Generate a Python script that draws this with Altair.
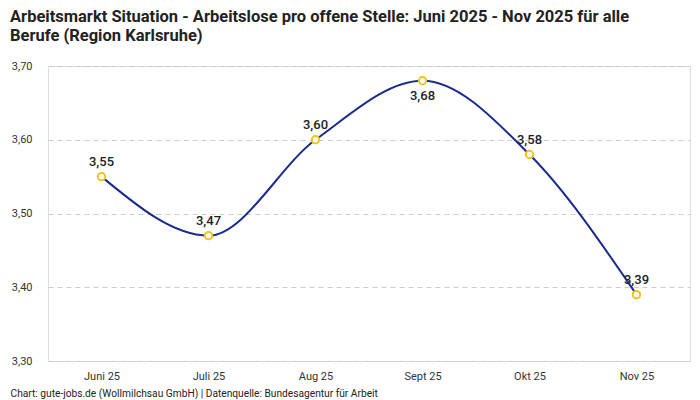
import altair as alt
import pandas as pd

months = ["Juni 25", "Juli 25", "Aug 25", "Sept 25", "Okt 25", "Nov 25"]
values = [3.55, 3.47, 3.60, 3.68, 3.58, 3.39]
label_pos = ["above", "above", "above", "below", "above", "above"]

df = pd.DataFrame({"Monat": months, "Wert": values, "pos": label_pos})

FONT = "Roboto"

x = alt.X("Monat:N", sort=months, scale=alt.Scale(type="point", padding=0.5),
          axis=alt.Axis(title="Chart: gute-jobs.de (Wollmilchsau GmbH) | Datenquelle: Bundesagentur für Arbeit",
                        titleX=-38, titleY=35, titleAlign="left", titleAnchor="start",
                        titleBaseline="alphabetic",
                        titleFontSize=10.2, titleFontWeight="normal", titleColor="#222", titleFont=FONT,
                        labelAngle=0, labelFontSize=11, labelColor="#333", labelFont=FONT,
                        labelPadding=9, ticks=False, domain=False, grid=False))
y = alt.Y("Wert:Q", scale=alt.Scale(domain=[3.30, 3.70], nice=False, zero=False),
          axis=alt.Axis(title=None, values=[3.30, 3.40, 3.50, 3.60, 3.70],
                        labelExpr="replace(format(datum.value, '.2f'), '.', ',')",
                        labelFontSize=11, labelColor="#333", labelFont=FONT,
                        labelPadding=16, ticks=False, domain=False,
                        grid=True, gridColor="#cccccc", gridDash=[5, 4], gridWidth=1))

base = alt.Chart(df).encode(x=x, y=y)

line = base.mark_line(color="#1b2a8f", strokeWidth=2, interpolate="monotone")
points = base.mark_point(shape="circle", filled=True, fill="white", stroke="#f5c21b",
                         strokeWidth=2, size=55, opacity=1)

text_base = base.transform_calculate(lbl="replace(format(datum.Wert, '.2f'), '.', ',')")
above = text_base.transform_filter("datum.pos == 'above'").mark_text(
    dy=-15, fontSize=13, font=FONT, color="#222", fontWeight=500).encode(text="lbl:N")
below = text_base.transform_filter("datum.pos == 'below'").mark_text(
    dy=15, fontSize=13, font=FONT, color="#222", fontWeight=500).encode(text="lbl:N")

chart = alt.layer(line, points, above, below).properties(
    width=642, height=295,
    padding={"left": 2, "top": 0, "right": 2, "bottom": 0},
    title=alt.TitleParams(
        text=["Arbeitsmarkt Situation - Arbeitslose pro offene Stelle: Juni 2025 - Nov 2025 für alle",
              "Berufe (Region Karlsruhe)"],
        anchor="start", frame="bounds", font=FONT, fontSize=16.5, fontWeight="bold",
        color="#222", lineHeight=19, offset=16),
).configure_view(stroke=None).configure(background="white")

chart.save("out.html", embed_options={"renderer": "svg", "actions": False})
